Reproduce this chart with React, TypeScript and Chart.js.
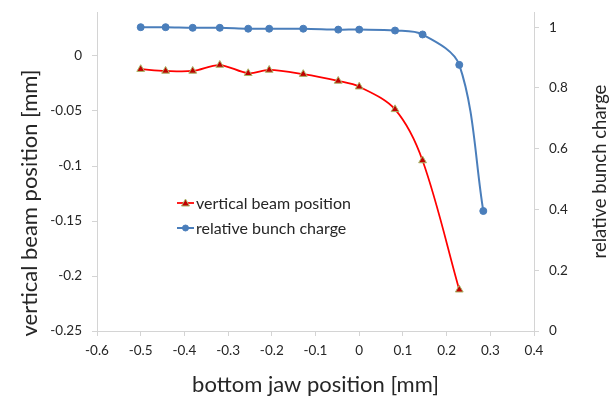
import React, { useEffect, useRef } from "react";
import { Chart, registerables } from "chart.js";

Chart.register(...registerables);

// Bottom jaw scan: jaw position [mm]
const jawPosition = [-0.5, -0.443, -0.381, -0.319, -0.254, -0.206, -0.128, -0.048, 0.0, 0.082, 0.145, 0.229, 0.284];
// Vertical beam position [mm] (no reading at the last jaw setting)
const beamPosition = [-0.012, -0.0136, -0.0136, -0.0082, -0.0157, -0.0127, -0.0165, -0.0227, -0.0279, -0.0485, -0.095, -0.2125];
// Relative bunch charge
const bunchCharge = [1.0, 1.0, 0.998, 0.998, 0.995, 0.995, 0.995, 0.992, 0.992, 0.989, 0.976, 0.876, 0.395];

const xTicks = [-0.6, -0.5, -0.4, -0.3, -0.2, -0.1, 0, 0.1, 0.2, 0.3, 0.4];
const leftTicks = [-0.25, -0.2, -0.15, -0.1, -0.05, 0];
const rightTicks = [0, 0.2, 0.4, 0.6, 0.8, 1];

const FONT = "Lato, 'Open Sans', sans-serif";
const TEXT = "#262626";
const AXIS = "#d4d4d4";
const RED = "#ff0000";
const BLUE = "#4a7ebb";

const fmt = (v: number) => String(parseFloat(Number(v).toFixed(3)));

const setTicks = (list: number[]) => (scale: any) => {
  scale.ticks = list.map((value) => ({ value }));
};

// fixed axis box widths; no extra room reserved for the end labels
const fitVertical = (width: number) => (s: any) => {
  s.width = width;
  s.paddingTop = 0;
  s.paddingBottom = 0;
};

const axisGrid = {
  display: true,
  drawOnChartArea: false,
  drawTicks: true,
  tickLength: 5,
  color: AXIS,
  lineWidth: 1,
};

// Legend box inside the plot, and both vertical axis titles reading upward
const overlay = {
  id: "overlay",
  afterDraw(chart: any) {
    const { ctx, chartArea } = chart;
    ctx.save();
    const rows = [
      { label: "vertical beam position", ds: 0, y: 203 },
      { label: "relative bunch charge", ds: 1, y: 228 },
    ];
    ctx.font = `16px ${FONT}`;
    ctx.textBaseline = "middle";
    ctx.textAlign = "left";
    for (const r of rows) {
      const d = chart.data.datasets[r.ds];
      const x0 = 177, x1 = 194, y = r.y;
      ctx.strokeStyle = d.borderColor;
      ctx.lineWidth = d.borderWidth;
      ctx.beginPath();
      ctx.moveTo(x0, y);
      ctx.lineTo(x1, y);
      ctx.stroke();
      const cx = (x0 + x1) / 2;
      ctx.fillStyle = d.pointBackgroundColor;
      ctx.strokeStyle = d.pointBorderColor;
      ctx.lineWidth = d.pointBorderWidth;
      ctx.beginPath();
      if (d.pointStyle === "triangle") {
        ctx.moveTo(cx, y - 4);
        ctx.lineTo(cx + 4, y + 3);
        ctx.lineTo(cx - 4, y + 3);
        ctx.closePath();
      } else {
        ctx.arc(cx, y, 3, 0, Math.PI * 2);
      }
      ctx.fill();
      ctx.stroke();
      ctx.fillStyle = TEXT;
      ctx.fillText(r.label, 196, y + 1);
    }
    ctx.textAlign = "center";
    ctx.textBaseline = "middle";
    // left axis title
    ctx.save();
    ctx.font = `22px ${FONT}`;
    ctx.translate(30, 203);
    ctx.rotate(-Math.PI / 2);
    ctx.fillText("vertical beam position [mm]", 0, 0);
    ctx.restore();
    // right axis title
    ctx.font = `18.5px ${FONT}`;
    ctx.translate(600, (chartArea.top + chartArea.bottom) / 2);
    ctx.rotate(-Math.PI / 2);
    ctx.fillText("relative bunch charge", 0, 0);
    ctx.restore();
  },
};

export default function App() {
  const ref = useRef<HTMLCanvasElement | null>(null);

  useEffect(() => {
    document.body.style.margin = "0";
    const canvas = ref.current;
    if (!canvas) return;
    const chart = new Chart(canvas, {
      type: "line",
      data: {
        datasets: [
          {
            label: "vertical beam position",
            data: beamPosition.map((y, i) => ({ x: jawPosition[i], y })),
            yAxisID: "y",
            borderColor: RED,
            borderWidth: 1.75,
            tension: 0.33,
            pointStyle: "triangle",
            pointRadius: 4.5,
            pointBackgroundColor: "#c00000",
            pointBorderColor: "#a9b66a",
            pointBorderWidth: 1,
          },
          {
            label: "relative bunch charge",
            data: bunchCharge.map((y, i) => ({ x: jawPosition[i], y })),
            yAxisID: "y1",
            borderColor: BLUE,
            borderWidth: 2,
            tension: 0.33,
            pointStyle: "circle",
            pointRadius: 3.5,
            pointBackgroundColor: BLUE,
            pointBorderColor: BLUE,
            pointBorderWidth: 1,
          },
        ],
      },
      options: {
        animation: false,
        responsive: false,
        maintainAspectRatio: false,
        layout: { padding: { top: 12, left: 0, right: 0, bottom: 0 } },
        plugins: { legend: { display: false }, tooltip: { enabled: false } },
        scales: {
          x: {
            type: "linear",
            position: "bottom",
            min: -0.6,
            max: 0.4,
            afterBuildTicks: setTicks(xTicks),
            afterFit: (s: any) => { s.height = 72; },
            grid: axisGrid,
            border: { display: true, color: AXIS },
            ticks: { color: TEXT, font: { family: FONT, size: 13.5 }, padding: 7, callback: (v: any) => fmt(v), maxRotation: 0 },
            title: {
              display: true,
              text: "bottom jaw position [mm]",
              color: TEXT,
              font: { family: FONT, size: 22 },
              padding: { top: 0, bottom: 5 },
            },
          },
          y: {
            type: "linear",
            position: "left",
            min: -0.25,
            max: 0.04,
            afterBuildTicks: setTicks(leftTicks),
            afterFit: fitVertical(97),
            grid: axisGrid,
            border: { display: true, color: AXIS },
            ticks: { color: TEXT, font: { family: FONT, size: 13.5 }, padding: 10, callback: (v: any) => fmt(v) },
          },
          y1: {
            type: "linear",
            position: "right",
            min: 0,
            max: 1.05,
            afterBuildTicks: setTicks(rightTicks),
            afterFit: fitVertical(79),
            grid: axisGrid,
            border: { display: true, color: AXIS },
            ticks: { color: TEXT, font: { family: FONT, size: 13.5 }, padding: 10, callback: (v: any) => fmt(v) },
          },
        },
      },
      plugins: [overlay],
    } as any);
    return () => chart.destroy();
  }, []);

  return (
    <div style={{ position: "relative", width: 613, height: 403, background: "#fff" }}>
      <canvas ref={ref} width={613} height={403} style={{ display: "block", width: 613, height: 403 }} />
    </div>
  );
}
